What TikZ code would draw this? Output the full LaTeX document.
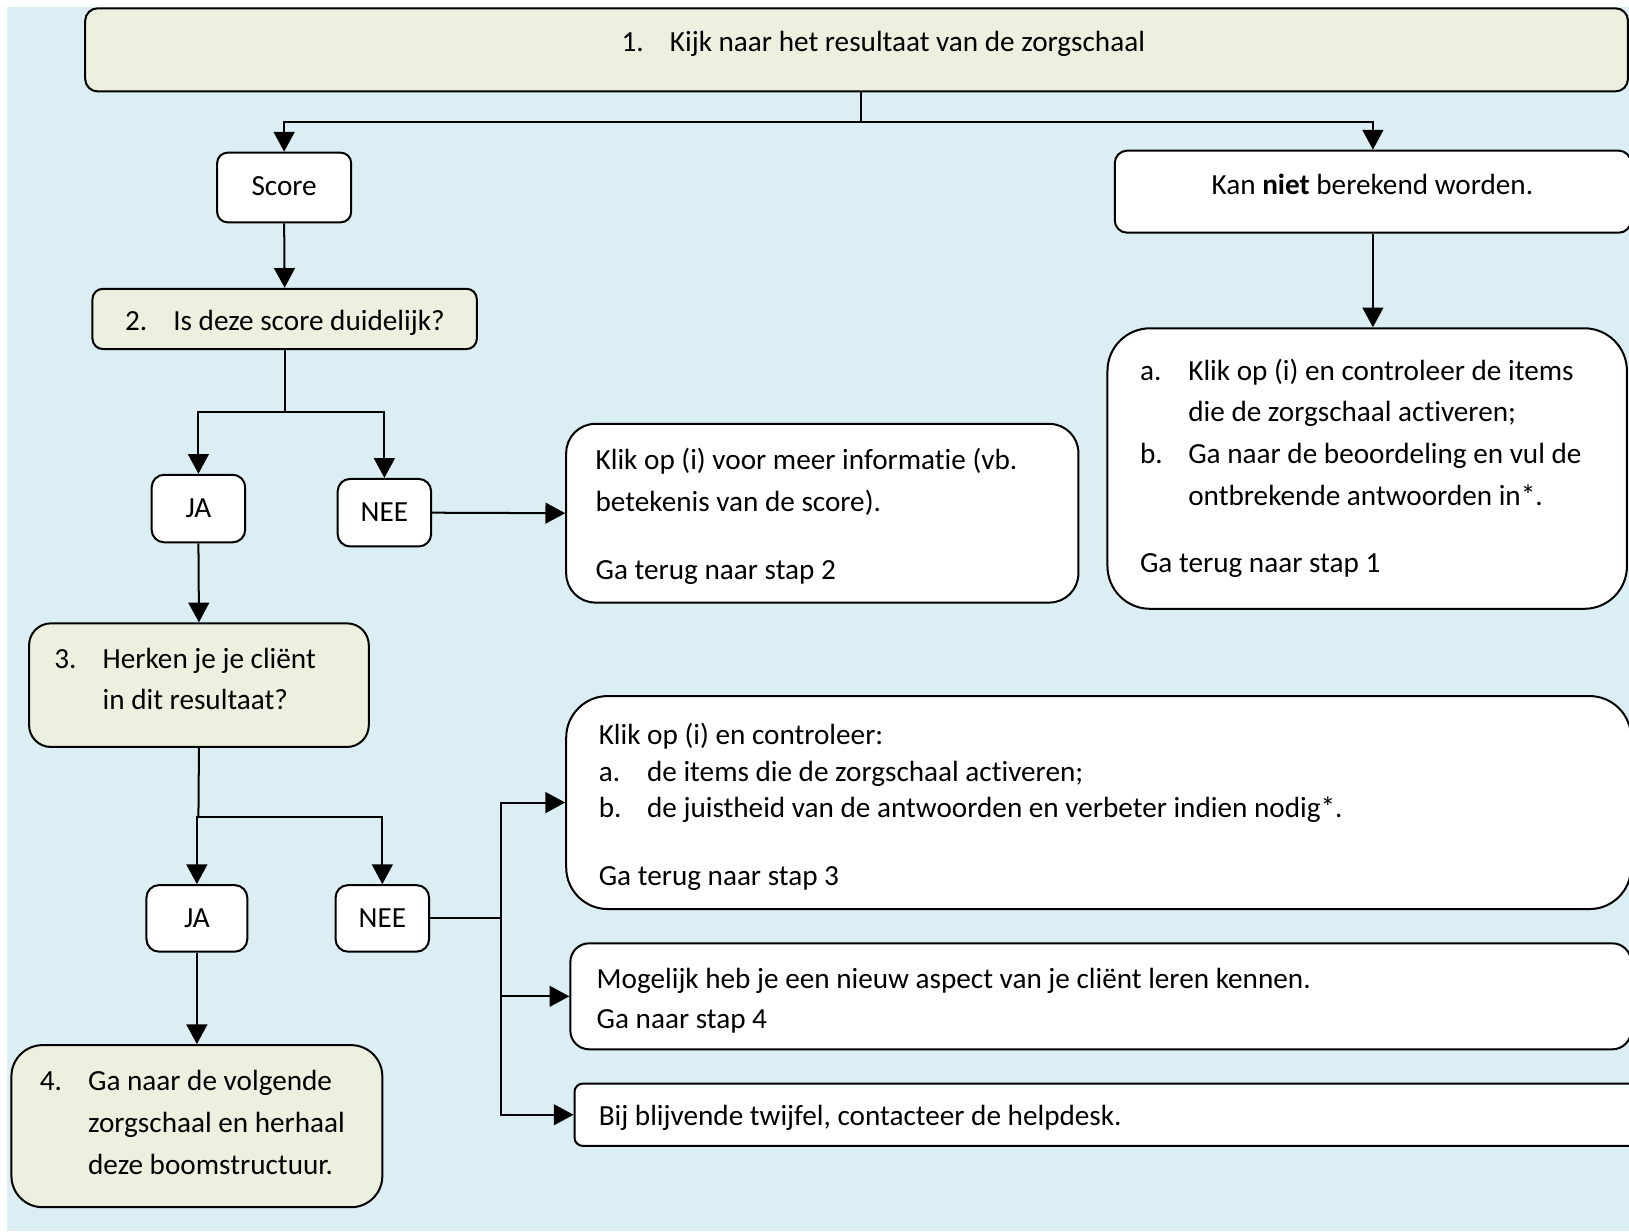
\documentclass[tikz,border=0pt]{standalone}
\usepackage{fontspec}
\setmainfont{Carlito}[Ligatures=NoCommon]
\usetikzlibrary{arrows.meta}
\definecolor{bgblue}{HTML}{DAEEF3}
\definecolor{stepgreen}{HTML}{EBF1DE}
\tikzset{
  dims/.style 2 args={minimum width=#1*0.02cm, minimum height=#2*0.02cm},
  stepbox/.style={draw, fill=stepgreen, line width=1.1pt, inner sep=0pt},
  infobox/.style={draw, fill=white, line width=1.1pt, inner sep=0pt},
  txt/.style={anchor=base west, inner sep=0pt, font=\fontsize{16}{22.8}\selectfont},
  ctxt/.style={txt, anchor=base},
  wire/.style={line width=1.1pt},
  arr/.style={line width=1.1pt, -{Triangle[length=0.38cm, width=0.4cm]}},
}
\newcommand{\lbl}[1]{\makebox[0.93cm][l]{#1}}
\newcommand{\ind}{\hspace*{0.93cm}}

\begin{document}
\begin{tikzpicture}[x=0.02cm, y=-0.02cm]
  \useasboundingbox (0,0) rectangle (1568,1185);
  \clip (0,0) rectangle (1568,1185);
  \fill[bgblue] (7,7) rectangle (1568,1185);

  % boxes
  \node[stepbox, dims={1485}{80}, rounded corners=0.24cm] (stap1) at (824.5,48) {};
  \node[infobox, dims={129}{67}, rounded corners=0.2cm] (score) at (273.5,180.5) {};
  \node[infobox, dims={497}{79}, rounded corners=0.24cm] (kan) at (1321.5,184.5) {};
  \node[stepbox, dims={370}{58}, rounded corners=0.2cm] (stap2) at (274,307) {};
  \node[infobox, dims={90}{65}, rounded corners=0.24cm] (ja1) at (191,489.5) {};
  \node[infobox, dims={90}{65}, rounded corners=0.24cm] (nee1) at (370,493.5) {};
  \node[infobox, dims={493}{172}, rounded corners=0.56cm] (info1) at (791.5,494) {};
  \node[infobox, dims={500}{270}, rounded corners=0.82cm] (ab) at (1316,451) {};
  \node[stepbox, dims={327}{119}, rounded corners=0.42cm] (stap3) at (191.5,659.5) {};
  \node[infobox, dims={97}{64}, rounded corners=0.24cm] (ja2) at (189.5,884) {};
  \node[infobox, dims={90}{64}, rounded corners=0.24cm] (nee2) at (368,884) {};
  \node[stepbox, dims={357}{156}, rounded corners=0.6cm] (stap4) at (189.5,1084) {};
  \node[infobox, dims={1025}{205}, rounded corners=0.8cm] (boxc) at (1057.5,772.5) {};
  \node[infobox, dims={1021}{102}, rounded corners=0.36cm] (boxd) at (1059.5,959) {};
  \node[infobox, dims={1067}{60}, rounded corners=0.16cm] (boxe) at (1086.5,1073) {};

  % texts
  \node[txt] (stap1txt) at (598,50) {\lbl{1.}Kijk naar het resultaat van de zorgschaal};
  \node[ctxt] (scoretxt) at (273.5,188) {Score};
  \node[ctxt] (kantxt) at (1321,187) {Kan \textbf{niet} berekend worden.};
  \node[txt] (stap2txt) at (120,318) {\lbl{2.}Is deze score duidelijk?};
  \node[ctxt] (ja1txt) at (191,498) {JA};
  \node[ctxt] (nee1txt) at (370,502) {NEE};
  \node[txt] (info1txt) at (573,452) {\begin{tabular}[t]{@{}l@{}}
    Klik op (i) voor meer informatie (vb.\\
    betekenis van de score).\\[0.52cm]
    Ga terug naar stap 2
  \end{tabular}};
  \node[txt] (abtxt) at (1097,366) {\begin{tabular}[t]{@{}l@{}}
    \lbl{a.}Klik op (i) en controleer de items\\
    \ind die de zorgschaal activeren;\\
    \lbl{b.}Ga naar de beoordeling en vul de\\
    \ind ontbrekende antwoorden in*.\\[0.5cm]
    Ga terug naar stap 1
  \end{tabular}};
  \node[txt] (stap3txt) at (52,643) {\begin{tabular}[t]{@{}l@{}}
    \lbl{3.}Herken je je cliënt\\
    \ind in dit resultaat?
  \end{tabular}};
  \node[ctxt] (ja2txt) at (189.5,893) {JA};
  \node[ctxt] (nee2txt) at (368,893) {NEE};
  \node[txt] (stap4txt) at (38,1050) {\begin{tabular}[t]{@{}l@{}}
    \lbl{4.}Ga naar de volgende\\
    \ind zorgschaal en herhaal\\
    \ind deze boomstructuur.
  \end{tabular}};
  \node[txt, font=\fontsize{16}{19.9}\selectfont] (boxctxt) at (576,717) {\begin{tabular}[t]{@{}l@{}}
    Klik op (i) en controleer:\\
    \lbl{a.}de items die de zorgschaal activeren;\\
    \lbl{b.}de juistheid van de antwoorden en verbeter indien nodig*.\\[0.6cm]
    Ga terug naar stap 3
  \end{tabular}};
  \node[txt, font=\fontsize{16}{22.2}\selectfont] (boxdtxt) at (574,951) {\begin{tabular}[t]{@{}l@{}}
    Mogelijk heb je een nieuw aspect van je cliënt leren kennen.\\
    Ga naar stap 4
  \end{tabular}};
  \node[txt] (boxetxt) at (576,1083) {Bij blijvende twijfel, contacteer de helpdesk.};

  % connectors
  \coordinate (split1) at (829,117);
  \draw[wire] (stap1.south -| split1) -- (split1);
  \draw[arr] (split1) -| (score.north);
  \draw[arr] (split1) -| (kan.north);
  \draw[arr] (score.south) -- (stap2.north);
  \draw[arr] (kan.south) -- (kan.south |- ab.north);

  \coordinate (split2) at (274,397);
  \draw[wire] (stap2.south) -- (split2);
  \draw[arr] (split2) -| (ja1.north);
  \draw[arr] (split2) -| (nee1.north);
  \draw[arr] (nee1.east) -- (info1.west);
  \draw[arr] (ja1.south) -- (stap3.north);

  \coordinate (split3) at (191,786);
  \draw[wire] (stap3.south) -- (split3);
  \draw[arr] (split3) -| (ja2.north);
  \draw[arr] (split3) -| (nee2.north);
  \draw[arr] (ja2.south) -- (stap4.north);

  \coordinate (bus) at (482,884);
  \draw[wire] (nee2.east) -- (bus);
  \draw[arr] (bus) |- (boxc.west);
  \draw[arr] (bus) |- (boxd.west);
  \draw[arr] (bus) |- (boxe.west);
\end{tikzpicture}
\end{document}
